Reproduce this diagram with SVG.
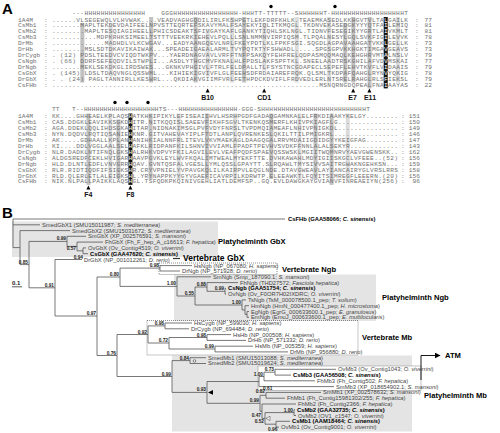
<svg xmlns="http://www.w3.org/2000/svg" width="500" height="433" viewBox="0 0 500 433">
<defs>
<style>
.pl{font-family:"Liberation Sans",Arial,sans-serif;font-weight:bold;font-size:15px;fill:#000}
.seq{font-family:"Liberation Mono","Courier New",monospace;font-size:6.2px;fill:#707070}
.num{font-family:"Liberation Mono","Courier New",monospace;font-size:6.2px;fill:#707070;text-anchor:end}
.w{fill:#fff}
.res{font-family:"Liberation Sans",Arial,sans-serif;font-size:7px;font-weight:bold;fill:#111;text-anchor:middle}
.lf{font-family:"Liberation Sans",Arial,sans-serif;font-size:5.8px;fill:#444}
.lfb{font-family:"Liberation Sans",Arial,sans-serif;font-size:5.8px;fill:#000;font-weight:bold}
.i{font-style:italic}
.sv{font-family:"Liberation Sans",Arial,sans-serif;font-size:4.8px;font-weight:bold;fill:#222;text-anchor:end}
.svs{font-family:"Liberation Sans",Arial,sans-serif;font-size:4.8px;font-weight:bold;fill:#222}
.cl{font-family:"Liberation Sans",Arial,sans-serif;font-size:7.6px;font-weight:bold;fill:#000}
.br{fill:none;stroke:#555;stroke-width:0.8}
.s1{fill:#c2c2c2}
.s2{fill:#dcdcdc}
.blk{fill:#151515}
.gb{fill:#e4e4e4}
.db{fill:none;stroke:#444;stroke-width:0.6;stroke-dasharray:1,1}
.tri{fill:#000}
</style>
<marker id="ah" viewBox="0 0 10 10" refX="9" refY="5" markerWidth="6" markerHeight="6" orient="auto" markerUnits="userSpaceOnUse"><path d="M0,0 L10,5 L0,10 z" fill="#000"/></marker>
</defs>
<rect width="500" height="433" fill="#fff"/>

<g id="panelA">
<text class="pl" x="2" y="14">A</text>
<g id="block1-shading">
<rect class="s1" x="80.3" y="23" width="4.05" height="59.5"/>
<rect class="s2" x="108.6" y="23" width="4.05" height="53.5"/>
<rect class="s1" x="149.1" y="17" width="4.05" height="65.5"/>
<rect class="s1" x="193.6" y="17" width="4.05" height="65.5"/>
<rect class="s2" x="205.7" y="28.9" width="4.05" height="47.6"/>
<rect class="s2" x="230" y="17" width="4.05" height="65.5"/>
<rect class="s1" x="242.1" y="17" width="4.05" height="65.5"/>
<rect class="s2" x="262.3" y="23" width="4.05" height="47.6"/>
<rect class="s2" x="294.7" y="17" width="4.05" height="65.5"/>
<rect class="s2" x="327.1" y="17" width="4.05" height="65.5"/>
<rect class="s1" x="343.2" y="23" width="4.05" height="59.5"/>
<rect class="s1" x="351.3" y="17" width="4.05" height="65.5"/>
<rect class="s1" x="367.5" y="17" width="4.05" height="71.4"/>
<rect class="s2" x="395.8" y="17" width="4.05" height="65.5"/>
<rect class="blk" x="383.7" y="17" width="4.05" height="71.4"/>
</g>
<g id="block1-seq">
<text class="seq" x="72.2" y="14.5" textLength="72.8">---HHHHHHHHHHHHHHH</text>
<text class="seq" x="161.2" y="14.5" textLength="246.7">GGGHHHHHHHHHHHHHHHH-HHHTT-TTTTT--SHHHHHHT-HHHHHHHHHHHHHHHHHHT</text>
<text class="seq" x="18" y="21.5">1A4M</text><text class="seq" x="44" y="21.5">:</text>
<text class="seq" x="52" y="21.5" textLength="356">......VLSEGEWQLVLHVWAK....VEADVAGHGQDILIRLFKSHPETLEKFDRFKHLK.TEAEMKASEDLKKHGVTVLTA<tspan class="w">L</tspan>GAILK</text>
<text class="seq" x="18" y="27.45">CsMb1</text><text class="seq" x="44" y="27.45">:</text>
<text class="seq" x="52" y="27.45" textLength="356">.......MAPLTEKDEVDAIFEELNPVSTTEQRTEFSKAVYMALFSAYEKYIQLITKMQGL.TKDNVEKASEDGKYYYQTFA<tspan class="w">I</tspan>LEMIQ</text>
<text class="seq" x="18" y="33.4">CsMb2</text><text class="seq" x="44" y="33.4">:</text>
<text class="seq" x="52" y="33.4" textLength="356">........MAPLTESQIAGIHEELLPHICSDEAKTSFIVGAYKAFLGANKYTIQHLSKLNGL.TIDNVFESEGIKYYGRTLA<tspan class="w">I</tspan>VKMLT</text>
<text class="seq" x="18" y="39.35">CsMb3</text><text class="seq" x="44" y="39.35">:</text>
<text class="seq" x="52" y="39.35" textLength="356">...........MDPKRHKSIMEELTSTTTVEEKRKIEHEVLPQLLLSNLNMMNVIRPIQSM.TLPQALNESYLGQLSVKFIG<tspan class="w">I</tspan>LEVVK</text>
<text class="seq" x="18" y="45.3">DrMb</text><text class="seq" x="44" y="45.3">:</text>
<text class="seq" x="52" y="45.3" textLength="356">.............MADHDLVLKCWGAV...EADYAANGQEVLNRLFKEYPDTLKLFPKFSGI.SQGDLAGPAVAAHGATVKK<tspan class="w">L</tspan>GELLK</text>
<text class="seq" x="18" y="51.25">DrHb</text><text class="seq" x="44" y="51.25">:</text>
<text class="seq" x="52" y="51.25" textLength="356">........MSLSDTDKAVIKAIWAK...SPEADEIGAEALARMLTVYPQTKTYFSHWADL.....SPGSGPVKKHGKTIMGA<tspan class="w">V</tspan>GEAVS</text>
<text class="seq" x="18" y="57.2">DrCygb</text><text class="seq" x="44" y="57.2">:</text>
<text class="seq" x="52" y="57.2" textLength="356">. (12) PDSLTEEDVCVIQDTWKPV...YAERDNAGVAVLVRFFTNFPSAKQYFEHFRELQDPASMQQMAQLKEHGHRVMT<tspan class="w">A</tspan>LNSLV</text>
<text class="seq" x="18" y="63.15">CsNgb</text><text class="seq" x="44" y="63.15">:</text>
<text class="seq" x="52" y="63.15" textLength="356">. (66) DDRFSEFEQDVILSTWPLI...ASDLYTHGCMVFKNALHLFPDSLAKFSPFTKL.SNEELAADTRSKGHILAFVD<tspan class="w">V</tspan>MSKAI</text>
<text class="seq" x="18" y="69.1">DrNgb</text><text class="seq" x="44" y="69.1">:</text>
<text class="seq" x="52" y="69.1" textLength="356">.......MEKLSEKDKGLIRDSWES...GKNKVPHGIVLFTRLFELDPALLTLFSYSTNCGDAPECLSEPEFLEHVTKVFLV<tspan class="w">I</tspan>DAAIS</text>
<text class="seq" x="18" y="75.05">CsGbX</text><text class="seq" x="44" y="75.05">:</text>
<text class="seq" x="52" y="75.05" textLength="356">. (145) LDSLTDAQVNGLQSSWML...KIHIEKIGVIVFLGLFEEHSDFRDAIAREFRQK.QLSMLTKDPAFQAHGLRYN<tspan class="w">V</tspan>YQKIG</text>
<text class="seq" x="18" y="81">DrGbX</text><text class="seq" x="44" y="81">:</text>
<text class="seq" x="52" y="81" textLength="356">. . (24) PAGLTANNIRLLKESWRL...QKDIAKVGIIMFVRLFETHPDCKDVIFLFRDVEDLERLNTSRELRAHGLRLS<tspan class="w">F</tspan>IEKSL</text>
<text class="seq" x="18" y="86.95">CsFHb</text><text class="seq" x="44" y="86.95">:</text>
<text class="seq" x="52" y="86.95" textLength="356">..................................................................MSNQRNGDQPEALFNA<tspan class="w">I</tspan>AAYAS</text>
</g>
<g id="block1-num">
<text class="seq" x="415" y="21.5">:</text><text class="num" x="432" y="21.5">77</text>
<text class="seq" x="415" y="27.45">:</text><text class="num" x="432" y="27.45">81</text>
<text class="seq" x="415" y="33.4">:</text><text class="num" x="432" y="33.4">81</text>
<text class="seq" x="415" y="39.35">:</text><text class="num" x="432" y="39.35">78</text>
<text class="seq" x="415" y="45.3">:</text><text class="num" x="432" y="45.3">73</text>
<text class="seq" x="415" y="51.25">:</text><text class="num" x="432" y="51.25">73</text>
<text class="seq" x="415" y="57.2">:</text><text class="num" x="432" y="57.2">79</text>
<text class="seq" x="415" y="63.15">:</text><text class="num" x="432" y="63.15">77</text>
<text class="seq" x="415" y="69.1">:</text><text class="num" x="432" y="69.1">79</text>
<text class="seq" x="415" y="75.05">:</text><text class="num" x="432" y="75.05">78</text>
<text class="seq" x="415" y="81">:</text><text class="num" x="432" y="81">79</text>
<text class="seq" x="415" y="86.95">:</text><text class="num" x="432" y="86.95">22</text>
</g>
<g id="block1-marks">
<circle cx="271" cy="6.5" r="1.7" fill="#000"/>
<circle cx="335" cy="6.5" r="1.7" fill="#000"/>
<polygon class="tri" points="207.6,88.6 205.6,92.6 209.6,92.6"/>
<polygon class="tri" points="264.2,88.6 262.2,92.6 266.2,92.6"/>
<polygon class="tri" points="353.2,88.6 351.2,92.6 355.2,92.6"/>
<polygon class="tri" points="369.4,88.6 367.4,92.6 371.4,92.6"/>
<text class="res" x="207.6" y="99.5">B10</text>
<text class="res" x="264.2" y="99.5">CD1</text>
<text class="res" x="352.6" y="99.5">E7</text>
<text class="res" x="370" y="99.5">E11</text>
</g>

<g id="block2-shading">
<rect class="s1" x="86.4" y="113.5" width="4.02" height="71.4"/>
<rect class="s2" x="108.3" y="113.5" width="4.02" height="65.5"/>
<rect class="s1" x="116.4" y="119.5" width="4.02" height="59.5"/>
<rect class="s1" x="148.5" y="113.5" width="4.02" height="65.5"/>
<rect class="s2" x="176.7" y="113.5" width="4.02" height="65.5"/>
<rect class="s1" x="204.9" y="113.5" width="4.02" height="65.5"/>
<rect class="s2" x="233" y="113.5" width="4.02" height="65.5"/>
<rect class="s1" x="269.2" y="113.5" width="4.02" height="65.5"/>
<rect class="s2" x="297.4" y="113.5" width="4.02" height="65.5"/>
<rect class="s1" x="313.5" y="113.5" width="4.02" height="65.5"/>
<rect class="s1" x="329.6" y="113.5" width="4.02" height="71.4"/>
<rect class="s2" x="345.7" y="113.5" width="4.02" height="65.5"/>
<rect class="blk" x="128.4" y="113.5" width="4.02" height="71.4"/>
</g>
<g id="block2-seq">
<text class="seq" x="52" y="111">TT</text>
<text class="seq" x="72.1" y="111" textLength="181">T--HHHHHHHHHHHHHHHHHHHTS---HHHHHHHHHHHHHHH-GGG</text>
<text class="seq" x="253.2" y="111" textLength="116.7">-SHHHHHHHHHHHHHHHHHHHHHHHHHHT</text>
<text class="seq" x="18" y="118">1A4M</text><text class="seq" x="44" y="118">:</text>
<text class="seq" x="52" y="118" textLength="346">KK....GHHEAELKPLAQS<tspan class="w">H</tspan>ATKHKIPIKYLEFISEAIIHVLHSRHPGDFGADAQGAMNKALELFRKDIAAKYKELGY........</text>
<text class="seq" x="18" y="123.95">CsMb1</text><text class="seq" x="44" y="123.95">:</text>
<text class="seq" x="52" y="123.95" textLength="346">CAS.DDGKLEAVIKKSGKD<tspan class="w">H</tspan>ITR.NITKQQISLSAEEVFIKHFSGVLTKENKQSMERFLKHIVPKIAGFLG...............</text>
<text class="seq" x="18" y="129.9">CsMb2</text><text class="seq" x="44" y="129.9">:</text>
<text class="seq" x="52" y="129.9" textLength="346">AGA.DDEKLQQLIHDSGKA<tspan class="w">H</tspan>ITAR.NIDNAKIMSGLPVFVDYFNRSLTVPDMQIAMEAFLNHIVPNIGKDL...............</text>
<text class="seq" x="18" y="135.85">CsMb3</text><text class="seq" x="44" y="135.85">:</text>
<text class="seq" x="52" y="135.85" textLength="346">NYN.DQDVLRQTIQSANIE<tspan class="w">H</tspan>KNR.GITVAHEVAYIPLFTDTLANPLQVRENKESLQKILTTILPMIGKRL................</text>
<text class="seq" x="18" y="141.8">DrMb</text><text class="seq" x="44" y="141.8">:</text>
<text class="seq" x="52" y="141.8" textLength="346">AK.....GDHAALLKPLAN<tspan class="w">H</tspan>ANIHKIALNNFRLITEVLVKVMAEKAGLDAAGQGALRRVMDAIIGDIDGYYKEIGFAG........</text>
<text class="seq" x="18" y="147.75">DrHb</text><text class="seq" x="44" y="147.75">:</text>
<text class="seq" x="52" y="147.75" textLength="346">KI....DDLVGGLAALSEL<tspan class="w">H</tspan>AFKLRIDPANFKILSHNVIVVIAMLFPADFTPEVHVSVDKFFNNLALALSEKYR............</text>
<text class="seq" x="18" y="153.7">DrCygb</text><text class="seq" x="44" y="153.7">:</text>
<text class="seq" x="52" y="153.7" textLength="346">NLR.DADKLNTIFNQLGKS<tspan class="w">H</tspan>ALRHKVDPVYFKILAGVILEVLVEAFPQDFSPAEVQSSWSKLMGIITWQMNRVYAEVGWENSKK..</text>
<text class="seq" x="18" y="159.65">CsNgb</text><text class="seq" x="44" y="159.65">:</text>
<text class="seq" x="52" y="159.65" textLength="346">ALDGSREDFCEKLHVIGAR<tspan class="w">H</tspan>AAVPGVKLEYLWVFKQALIMTWEALMYEKFTTE.DVHKAWAHLMDYIGIISKGCLVFEEE..(52)</text>
<text class="seq" x="18" y="165.6">DrNgb</text><text class="seq" x="44" y="165.6">:</text>
<text class="seq" x="52" y="165.6" textLength="346">HLD.DLNTLEDFLVNVGRR<tspan class="w">H</tspan>QAV.GVNTQSFALVGESLLYMLQSSLGPAYTT.SLRQAWLTMYSIVVSAITRGWAKNGEHKSN...</text>
<text class="seq" x="18" y="171.55">CsGbX</text><text class="seq" x="44" y="171.55">:</text>
<text class="seq" x="52" y="171.55" textLength="346">RLR.RIDTIQDFIFSIGKS<tspan class="w">H</tspan>R.CRYVPNIELYVPAVGKQLILKAIRPVLEQGLNDE.DTAVGWEAVLAYIANCAIRYGLVRSLRRS</text>
<text class="seq" x="18" y="177.5">DrGbX</text><text class="seq" x="44" y="177.5">:</text>
<text class="seq" x="52" y="177.5" textLength="346">RLD.QLERLETLALEIGKS<tspan class="w">H</tspan>L.YRYNAPPKYYGYVGAEFICAVRPILKDRWTP.ELEEAWKTLFQYITSIMREGFLEEERN.(20)</text>
<text class="seq" x="18" y="183.45">CsFHb</text><text class="seq" x="44" y="183.45">:</text>
<text class="seq" x="52" y="183.45" textLength="346">NIK.NLPALLPAIKKLAQS<tspan class="w">H</tspan>GL.TSFQDKPKQINIVGEHLIATLDEMFSP..GQ.EVLDAWGKAYGVIANVFINREAEIYN(256)</text>
</g>
<g id="block2-num">
<text class="seq" x="401" y="118">:</text><text class="num" x="420" y="118">151</text>
<text class="seq" x="401" y="123.95">:</text><text class="num" x="420" y="123.95">150</text>
<text class="seq" x="401" y="129.9">:</text><text class="num" x="420" y="129.9">149</text>
<text class="seq" x="401" y="135.85">:</text><text class="num" x="420" y="135.85">146</text>
<text class="seq" x="401" y="141.8">:</text><text class="num" x="420" y="141.8">147</text>
<text class="seq" x="401" y="147.75">:</text><text class="num" x="420" y="147.75">143</text>
<text class="seq" x="401" y="153.7">:</text><text class="num" x="420" y="153.7">162</text>
<text class="seq" x="401" y="159.65">:</text><text class="num" x="420" y="159.65">156</text>
<text class="seq" x="401" y="165.6">:</text><text class="num" x="420" y="165.6">159</text>
<text class="seq" x="401" y="171.55">:</text><text class="num" x="420" y="171.55">158</text>
<text class="seq" x="401" y="177.5">:</text><text class="num" x="420" y="177.5">156</text>
<text class="seq" x="401" y="183.45">:</text><text class="num" x="420" y="183.45">96</text>
</g>
<g id="block2-marks">
<circle cx="115" cy="102.5" r="1.7" fill="#000"/>
<circle cx="127" cy="102.5" r="1.7" fill="#000"/>
<circle cx="148" cy="102.5" r="1.7" fill="#000"/>
<polygon class="tri" points="88.4,185.5 86.4,189.5 90.4,189.5"/>
<polygon class="tri" points="130.4,185.5 128.4,189.5 132.4,189.5"/>
<text class="res" x="88.4" y="197">F4</text>
<text class="res" x="130.4" y="197">F8</text>
</g>
</g>

<g id="panelB">
<text class="pl" x="2" y="218">B</text>
<g id="clade-boxes">
<rect class="gb" x="12" y="221.5" width="206" height="35.5"/>
<rect class="gb" x="174" y="274.5" width="202" height="46.5"/>
<rect class="gb" x="172" y="355.5" width="240" height="76"/>
<rect class="db" x="159" y="263" width="118" height="11.5"/>
<rect class="db" x="147" y="320.5" width="211" height="34.5"/>
<rect x="258" y="366" width="163" height="24.5" fill="#fff" stroke="#999" stroke-width="0.6"/>
</g>
<g id="connectors">
<path class="br" d="M13,219V247.6M13,219H285M13,224.8H40M13,247.6H20M20,230.6V264.6M20,230.6H70M20,264.6H29M29,241.4V287.8M29,241.4H67M67,236.3V246.4M67,236.3H86M67,246.4H77M77,242.1V250.8M77,242.1H103M77,250.8H83M83,247.9V253.7M83,247.9H86M83,253.7H88M29,287.8H55M55,259.5V316M55,259.5H82M55,316H97"/>
<path class="br" d="M97,277V355.5M97,277H120M120,268.1V286.4M120,268.1H160M160,265.6V271M160,265.6H192M160,271H180M120,286.4H177M177,276.8V296M177,276.8H211M177,296H195M195,287V305M195,287H207M207,282.6V291.3M207,282.6H238M207,291.3H225M225,288.4V294.1M225,288.4H226M225,294.1H226M195,305H242M242,299.9V310M242,299.9H246M242,310H245M245,305.7V314.4M245,305.7H249M245,314.4H247M247,311.5V317.3M247,311.5H249M247,317.3H249"/>
<path class="br" d="M97,355.5H117M117,334.5V376.5M117,334.5H148M148,325.9V343M148,325.9H165M165,323V328.8M165,323H192M165,328.8H189M148,343H169M169,337.5V349M169,337.5H207M207,334.6V340.4M207,334.6H231M207,340.4H246M169,349H215M215,346.2V351.9M215,346.2H253M215,351.9H288"/>
<path class="br" d="M117,376.5H172M172,360.6V392.4M172,360.6H190M190,357.7V363.5M190,357.7H206M190,363.5H206M172,392.4H207M207,381.5V403.3M207,381.5H259M259,376.5V386.6M259,386.6H334M259,376.5H264M264,372.2V380.8M264,380.8H315M264,372.2H275M275,369.3V375.1M275,369.3H336M275,375.1H291M207,403.3H260M260,395.3V411.2M260,395.3H266M266,392.4V398.2M266,392.4H321M266,398.2H285M260,411.2H262M262,404V418.4M262,404H296M262,418.4H265M265,412.6V424.2M265,412.6H294M294,409.7V415.5M294,409.7H295M294,415.5H296M265,424.2H276M276,421.3V427.1M276,421.3H290M276,427.1H279"/>
<path d="M421,380V355.5H440" fill="none" stroke="#000" stroke-width="0.9" marker-end="url(#ah)"/>
<circle cx="194.5" cy="361" r="1.3" fill="#fff" stroke="#333" stroke-width="0.6"/>
<polygon points="208,392.4 213,390 213,394.8" fill="#000"/>
<polygon points="266,418.4 270,416.3 270,420.5" fill="#fff" stroke="#333" stroke-width="0.5"/>
<path d="M12,286.8H22" stroke="#333" stroke-width="0.8"/>
<path d="M173,258.5H180" stroke="#333" stroke-width="1.2"/>
</g>
<g id="support">
<text class="sv" x="66" y="240.4">0.99</text>
<text class="sv" x="76" y="249.8">0.57</text>
<text class="sv" x="83" y="258.6">0.94</text>
<text class="sv" x="28" y="263.6">0.85</text>
<text class="sv" x="54" y="286.8">0.91</text>
<text class="sv" x="96" y="315">0.97</text>
<text class="sv" x="119" y="276">0.80</text>
<text class="sv" x="159" y="267.1">0.98</text>
<text class="sv" x="176" y="285.4">1.00</text>
<text class="sv" x="194" y="295">0.55</text>
<text class="sv" x="206" y="286">0.88</text>
<text class="sv" x="224" y="290.3">0.99</text>
<text class="sv" x="241" y="304">1.00</text>
<text class="sv" x="116" y="354.5">0.76</text>
<text class="sv" x="147" y="333.5">0.92</text>
<text class="sv" x="164" y="325">0.98</text>
<text class="sv" x="168" y="342">0.72</text>
<text class="sv" x="206" y="336.5">0.98</text>
<text class="sv" x="214" y="348">0.99</text>
<text class="sv" x="171" y="375.5">0.99</text>
<text class="sv" x="189" y="359.6">0.84</text>
<text class="sv" x="206" y="391.4">0.93</text>
<text class="sv" x="274" y="371">0.73</text>
<text class="sv" x="263" y="375.5">1.00</text>
<text class="svs" x="263" y="390">0.61</text>
<text class="sv" x="259" y="402.3">0.99</text>
<text class="sv" x="265" y="393">0.82</text>
<text class="sv" x="261" y="416.5">0.47</text>
<text class="sv" x="264" y="423.4">0.52</text>
<text class="sv" x="293" y="411.6">1.00</text>
<text class="svs" x="268" y="431">0.96</text>
<text class="svs" x="12" y="285" style="font-size:6px">0.1</text>
</g>
<g id="leaves">
<g id="n-CsFHb"><text class="lfb" x="288" y="221">CsFHb (GAA58066; <tspan class="i">C. sinensis</tspan>)</text></g>
<g id="n-SmedGbX1"><text class="lf" x="42" y="226.8">SmedGbX1 (SMU15011987; <tspan class="i">S. mediterranea</tspan>)</text></g>
<g id="n-SmedGbX2"><text class="lf" x="72" y="232.6">SmedGbX2 (SMU15031672; <tspan class="i">S. mediterranea</tspan>)</text></g>
<g id="n-SmGbX"><text class="lf" x="88" y="238.3">SmGbX (XP_002576591; <tspan class="i">S. mansoni</tspan>)</text></g>
<g id="n-FhGbX"><text class="lf" x="105" y="244.1">FhGbX (Fh_F_hep_A_c16613; <tspan class="i">F. hepatica</tspan>)</text></g>
<g id="n-OvGbX"><text class="lf" x="88" y="249.9">OvGbX (Ov_Contig4519; <tspan class="i">O. viverrini</tspan>)</text></g>
<g id="n-CsGbX"><text class="lfb" x="90" y="255.7">CsGbX (GAA47620; <tspan class="i">C. sinensis</tspan>)</text></g>
<g id="n-DrGbX"><text class="lf" x="84" y="261.5">DrGbX (NP_001012261; <tspan class="i">D. rerio</tspan>)</text></g>
<g id="n-HsNgb"><text class="lf" x="194" y="267.8">HsNgb (NP_067080; <tspan class="i">H. sapiens</tspan>)</text></g>
<g id="n-DrNgb"><text class="lf" x="182" y="273">DrNgb (NP_571928; <tspan class="i">D. rerio</tspan>)</text></g>
<g id="n-SmNgb"><text class="lf" x="213" y="278.8">SmNgb (Smp_187090.1; <tspan class="i">S. mansoni</tspan>)</text></g>
<g id="n-FhNgb"><text class="lf" x="240" y="284.6">FhNgb (THD27572; <tspan class="i">Fasciola hepatica</tspan>)</text></g>
<g id="n-CsNgb"><text class="lfb" x="228" y="290.4">CsNgb (GAA51754; <tspan class="i">C. sinensis</tspan>)</text></g>
<g id="n-OvNgb"><text class="lf" x="228" y="296.1">OvNgb (Ov_F0OR7H02IXDRC; <tspan class="i">O. viverrini</tspan>)</text></g>
<g id="n-TsNgb"><text class="lf" x="248" y="301.9">TsNgb (TsM_000078500.1_pep; <tspan class="i">T. solium</tspan>)</text></g>
<g id="n-HmNgb"><text class="lf" x="251" y="307.7">HmNgb (HmN_000477400.1_pep; <tspan class="i">H. microstoma</tspan>)</text></g>
<g id="n-EgNgb"><text class="lf" x="251" y="313.5">EgNgb (EgrG_000633600.1_pep; <tspan class="i">E. granulosus</tspan>)</text></g>
<g id="n-EmNgb"><text class="lf" x="251" y="319.3">EmNgb (EmuJ_000633600.1_pep; <tspan class="i">E. multilocularis</tspan>)</text></g>
<g id="n-HsCygb"><text class="lf" x="194" y="325">HsCygb (NP_599030; <tspan class="i">H. sapiens</tspan>)</text></g>
<g id="n-DrCygb"><text class="lf" x="191" y="330.8">DrCygb (NP_694484; <tspan class="i">D. rerio</tspan>)</text></g>
<g id="n-HsHb"><text class="lf" x="233" y="336.6">HsHb (NP_000508; <tspan class="i">H. sapiens</tspan>)</text></g>
<g id="n-DrHb"><text class="lf" x="248" y="342.4">DrHb (NP_571332; <tspan class="i">D. rerio</tspan>)</text></g>
<g id="n-HsMb"><text class="lf" x="255" y="348.2">HsMb (NP_005359; <tspan class="i">H. sapiens</tspan>)</text></g>
<g id="n-DrMb"><text class="lf" x="290" y="353.9">DrMb (NP_956880; <tspan class="i">D. rerio</tspan>)</text></g>
<g id="n-SmedMb1"><text class="lf" x="208" y="359.7">SmedMb1 (SMU15013088; <tspan class="i">S. mediterranea</tspan>)</text></g>
<g id="n-SmedMb2"><text class="lf" x="208" y="365.3">SmedMb2 (SMU15019624; <tspan class="i">S. mediterranea</tspan>)</text></g>
<g id="n-OvMb3"><text class="lf" x="338" y="371.3">OvMb3 (Ov_Contig1043; <tspan class="i">O. viverrini</tspan>)</text></g>
<g id="n-CsMb3"><text class="lfb" x="293" y="377.1">CsMb3 (GAA56508; <tspan class="i">C. sinensis</tspan>)</text></g>
<g id="n-FhMb3"><text class="lf" x="317" y="382.8">FhMb3 (Fh_Contig502; <tspan class="i">F. hepatica</tspan>)</text></g>
<g id="n-SmMb3"><text class="lf" x="336" y="388.6">SmMb3 (XP_018654902.1; <tspan class="i">S. mansoni</tspan>)</text></g>
<g id="n-SmMb1"><text class="lf" x="323" y="394.4">SmMb1 (XP_002578632; <tspan class="i">S. mansoni</tspan>)</text></g>
<g id="n-FhMb1"><text class="lf" x="287" y="400.2">FhMb1 (Fh_Contig15981302/255; <tspan class="i">F. hepatica</tspan>)</text></g>
<g id="n-FhMb2"><text class="lf" x="298" y="406">FhMb2 (Fh_Contig2366; <tspan class="i">F. hepatica</tspan>)</text></g>
<g id="n-CsMb2"><text class="lfb" x="297" y="411.7">CsMb2 (GAA32735; <tspan class="i">C. sinensis</tspan>)</text></g>
<g id="n-OvMb2"><text class="lf" x="298" y="417.5">OvMb2 (OV1_c1547; <tspan class="i">O. viverrini</tspan>)</text></g>
<g id="n-CsMb1"><text class="lfb" x="292" y="423.3">CsMb1 (AAM18464; <tspan class="i">C. sinensis</tspan>)</text></g>
<g id="n-OvMb1"><text class="lf" x="281" y="429.1">OvMb1 (Ov_Contig9001; <tspan class="i">O. viverrini</tspan>)</text></g>
</g>
<g id="clade-labels">
<text class="cl" x="218" y="243.5">Platyhelminth GbX</text>
<text class="cl" x="183" y="261" style="font-size:8.5px">Vertebrate GbX</text>
<text class="cl" x="282" y="271.5">Vertebrate Ngb</text>
<text class="cl" x="382" y="299.5">Platyhelminth Ngb</text>
<text class="cl" x="362" y="339.5">Vertebrate Mb</text>
<text class="cl" x="424" y="397.8">Platyhelminth Mb</text>
<text class="cl" x="445" y="358">ATM</text>
</g>
</g>
</svg>
